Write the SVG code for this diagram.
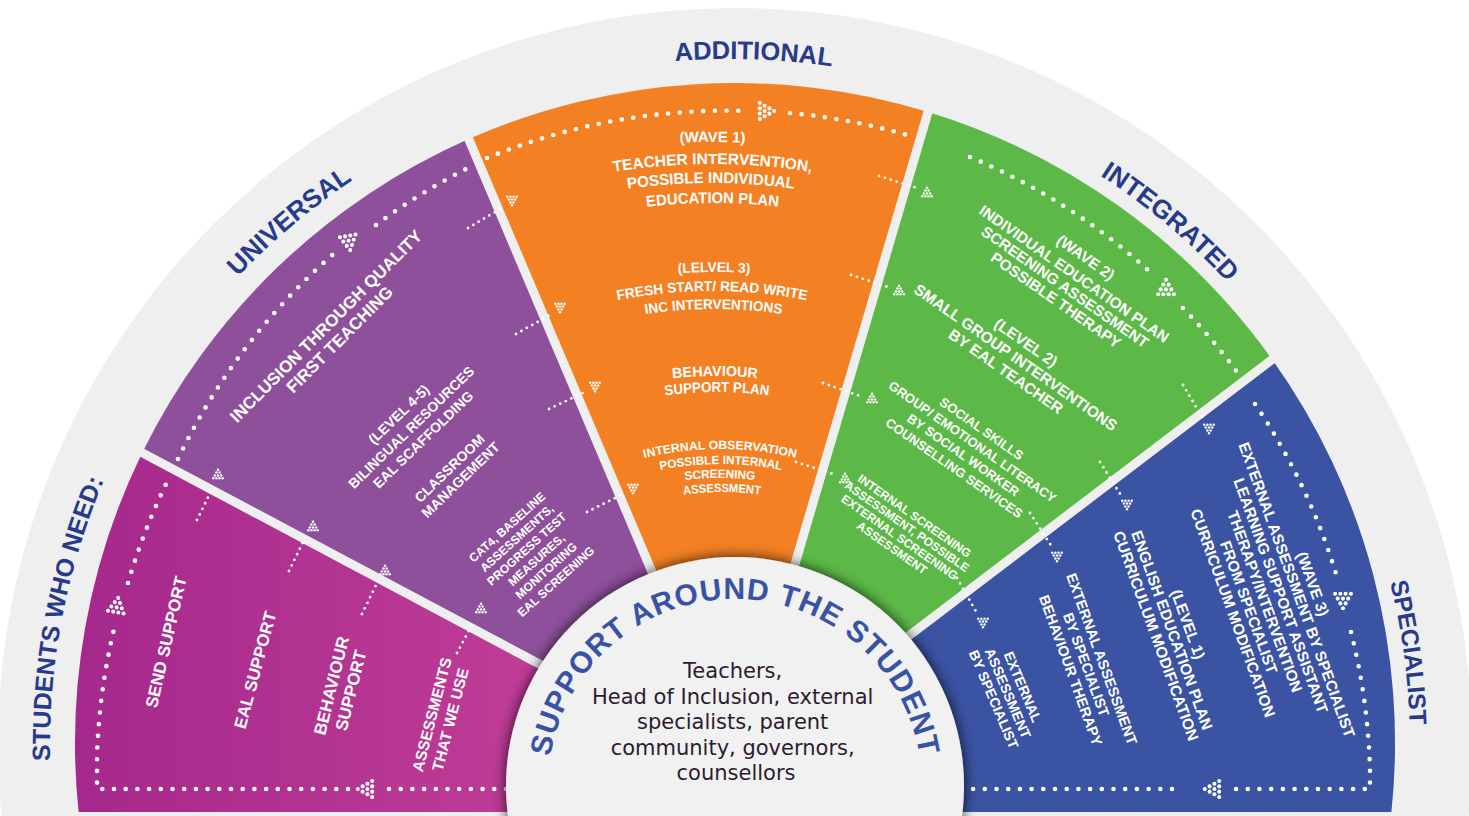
<svg xmlns="http://www.w3.org/2000/svg" width="1469" height="816" viewBox="0 0 1469 816">
<defs>
<style>
.lbl{font-family:"Liberation Sans",Arial,sans-serif;font-weight:700;fill:#263b8c}
.w{font-family:"Liberation Sans",Arial,sans-serif;font-weight:700;fill:#fff}
.body{font-family:"DejaVu Sans",sans-serif;fill:#2e1b30;font-size:21px}
.dl{fill:none;stroke:#fff;stroke-width:4.6;stroke-linecap:round;stroke-dasharray:0 11.7}
.ds{fill:none;stroke:#fff;stroke-width:2.8;stroke-linecap:round;stroke-dasharray:0 6.2}
.gap{stroke:#efefef;stroke-width:9}
</style>
<linearGradient id="mg" x1="78" y1="0" x2="735" y2="0" gradientUnits="userSpaceOnUse">
<stop offset="0" stop-color="#a5288c"/><stop offset="1" stop-color="#cb469b"/>
</linearGradient>
<filter id="sh" x="-20%" y="-20%" width="140%" height="140%">
<feGaussianBlur in="SourceAlpha" stdDeviation="7"/>
<feComponentTransfer><feFuncA type="linear" slope="0.8"/></feComponentTransfer>
<feMerge><feMergeNode/><feMergeNode in="SourceGraphic"/></feMerge>
</filter>
<g id="ah" fill="#fff">
<circle cx="-6" cy="-6.6" r="1.7"/><circle cx="-6" cy="-2.2" r="1.7"/><circle cx="-6" cy="2.2" r="1.7"/><circle cx="-6" cy="6.6" r="1.7"/>
<circle cx="-2" cy="-4.4" r="1.7"/><circle cx="-2" cy="0" r="1.7"/><circle cx="-2" cy="4.4" r="1.7"/>
<circle cx="2" cy="-2.2" r="1.7"/><circle cx="2" cy="2.2" r="1.7"/>
<circle cx="6" cy="0" r="1.7"/>
</g>
<path id="ringp" d="M 73.2 922 A 680 680 0 1 1 1386.8 922" fill="none"/>
<path id="ringa" d="M 135 402.5 A 687 687 0 0 1 1325 402.5" fill="none"/>
<path id="cp" d="M 548 786 A 187 187 0 0 1 922 786" fill="none"/>
<path id="o1" d="M 562.5 160 A 633 633 0 0 1 862.5 160" fill="none"/>
<path id="o2" d="M 562.5 182.7 A 611 611 0 0 1 862.5 182.7" fill="none"/>
<path id="o3" d="M 561 202.3 A 592 592 0 0 1 861 202.3" fill="none"/>
<path id="o4" d="M 562.5 223 A 572 572 0 0 1 862.5 223" fill="none"/>
<path id="o5" d="M 564 294.9 A 503 503 0 0 1 864 294.9" fill="none"/>
<path id="o6" d="M 562 314.8 A 484 484 0 0 1 862 314.8" fill="none"/>
<path id="o7" d="M 563.5 333.8 A 466 466 0 0 1 863.5 333.8" fill="none"/>
<path id="o8" d="M 595 394.5 A 399 399 0 0 1 835 394.5" fill="none"/>
<path id="o9" d="M 597 411.3 A 383 383 0 0 1 837 411.3" fill="none"/>
<path id="o10" d="M 600 471.9 A 326 326 0 0 1 840 471.9" fill="none"/>
<path id="o11" d="M 601 488.1 A 311 311 0 0 1 841 488.1" fill="none"/>
<path id="o12" d="M 620 495.3 A 297 297 0 0 1 820 495.3" fill="none"/>
<path id="o13" d="M 622 510.3 A 283 283 0 0 1 822 510.3" fill="none"/>
</defs>

<rect x="0" y="0" width="1469" height="816" fill="#ffffff"/>
<g id="ring">
<circle cx="735" cy="745" r="737" fill="#efefef"/>
<g class="lbl" text-anchor="middle">
<text font-size="25"><textPath href="#ringp" startOffset="307">STUDENTS WHO NEED:</textPath></text>
<text font-size="26"><textPath href="#ringp" startOffset="771">UNIVERSAL</textPath></text>
<text font-size="25.5"><textPath href="#ringa" startOffset="743">ADDITIONAL</textPath></text>
<text font-size="26"><textPath href="#ringp" startOffset="1721">INTEGRATED</textPath></text>
<text font-size="24.5"><textPath href="#ringp" startOffset="2221">SPECIALIST</textPath></text>
</g>
</g>

<g id="sector-students">
<path d="M 735 812 L 78.6 812 A 660 660 0 0 1 142.2 452.8 L 735 768 Z" fill="url(#mg)"/>
<g class="w" text-anchor="middle">
<text font-size="17" transform="translate(166,642) rotate(-77)"><tspan x="0" y="6">SEND SUPPORT</tspan></text>
<text font-size="17" transform="translate(255,670) rotate(-75)"><tspan x="0" y="6">EAL SUPPORT</tspan></text>
<text font-size="17" transform="translate(341,688) rotate(-76)"><tspan x="0" y="-4">BEHAVIOUR</tspan><tspan x="0" y="16">SUPPORT</tspan></text>
<text font-size="15.5" transform="translate(441,717) rotate(-75.5)"><tspan x="0" y="-4">ASSESSMENTS</tspan><tspan x="0" y="15">THAT WE USE</tspan></text>
</g>
</g>

<g id="sector-universal">
<path d="M 735 768 L 142.2 452.8 A 660 660 0 0 1 468.7 139.1 Z" fill="#8e4f9b"/>
<g class="w" text-anchor="middle">
<text font-size="17" transform="rotate(-45)"><tspan x="0" y="467">INCLUSION THROUGH QUALITY</tspan><tspan x="0" y="486">FIRST TEACHING</tspan></text>
<text font-size="14" transform="rotate(-44)"><tspan x="-1" y="580">(LEVEL 4-5)</tspan><tspan x="-1" y="598">BILINGUAL RESOURCES</tspan><tspan x="-1" y="615">EAL SCAFFOLDING</tspan></text>
<text font-size="14" transform="rotate(-44)"><tspan x="-2" y="654">CLASSROOM</tspan><tspan x="-2" y="670">MANAGEMENT</tspan></text>
<text font-size="12" transform="rotate(-42)"><tspan x="24" y="735.3">CAT4, BASELINE</tspan><tspan x="24" y="749.9">ASSESSMENTS,</tspan><tspan x="24" y="764.5">PROGRESS TEST</tspan><tspan x="24" y="779.1">MEASURES,</tspan><tspan x="24" y="793.7">MONITORING</tspan><tspan x="24" y="808.3">EAL SCREENING</tspan></text>
</g>
</g>

<g id="sector-additional">
<path d="M 735 768 L 468.7 139.1 A 660 660 0 0 1 928.1 111.9 Z" fill="#f38123"/>
<g class="w" text-anchor="middle">
<text font-size="15"><textPath href="#o1" startOffset="50%">(WAVE 1)</textPath></text>
<text font-size="15.5"><textPath href="#o2" startOffset="50%" textLength="199" lengthAdjust="spacingAndGlyphs">TEACHER INTERVENTION,</textPath></text>
<text font-size="15.5"><textPath href="#o3" startOffset="50%" textLength="167" lengthAdjust="spacingAndGlyphs">POSSIBLE INDIVIDUAL</textPath></text>
<text font-size="15.5"><textPath href="#o4" startOffset="50%" textLength="132" lengthAdjust="spacingAndGlyphs">EDUCATION PLAN</textPath></text>
<text font-size="14"><textPath href="#o5" startOffset="50%" textLength="72" lengthAdjust="spacingAndGlyphs">(LELVEL 3)</textPath></text>
<text font-size="14"><textPath href="#o6" startOffset="50%" textLength="190" lengthAdjust="spacingAndGlyphs">FRESH START/ READ WRITE</textPath></text>
<text font-size="14"><textPath href="#o7" startOffset="50%" textLength="137" lengthAdjust="spacingAndGlyphs">INC INTERVENTIONS</textPath></text>
<text font-size="14.5"><textPath href="#o8" startOffset="50%" textLength="85" lengthAdjust="spacingAndGlyphs">BEHAVIOUR</textPath></text>
<text font-size="14.5"><textPath href="#o9" startOffset="50%" textLength="104" lengthAdjust="spacingAndGlyphs">SUPPORT PLAN</textPath></text>
<text font-size="12"><textPath href="#o10" startOffset="50%" textLength="153" lengthAdjust="spacingAndGlyphs">INTERNAL OBSERVATION</textPath></text>
<text font-size="12"><textPath href="#o11" startOffset="50%" textLength="122" lengthAdjust="spacingAndGlyphs">POSSIBLE INTERNAL</textPath></text>
<text font-size="12"><textPath href="#o12" startOffset="50%" textLength="70" lengthAdjust="spacingAndGlyphs">SCREENING</textPath></text>
<text font-size="12"><textPath href="#o13" startOffset="50%" textLength="77" lengthAdjust="spacingAndGlyphs">ASSESSMENT</textPath></text>
</g>
</g>

<g id="sector-integrated">
<path d="M 735 768 L 928.1 111.9 A 660 660 0 0 1 1272.2 359.5 Z" fill="#5cb947"/>
<g class="w" text-anchor="middle">
<text font-size="15.3" transform="rotate(35)"><tspan x="1037" y="-406.5">(WAVE 2)</tspan><tspan x="1037" y="-386.5">INDIVIDUAL EDUCATION PLAN</tspan><tspan x="1037" y="-370.5">SCREENING ASSESSMENT</tspan><tspan x="1037" y="-354.5">POSSIBLE THERAPY</tspan></text>
<text font-size="15.5" transform="rotate(35)"><tspan x="1037" y="-302.4">(LEVEL 2)</tspan><tspan x="1037" y="-284.4">SMALL GROUP INTERVENTIONS</tspan><tspan x="1037" y="-267.4">BY EAL TEACHER</tspan></text>
<text font-size="13" transform="rotate(35)"><tspan x="1050" y="-207.3">SOCIAL SKILLS</tspan><tspan x="1050" y="-191.3">GROUP/ EMOTIONAL LITERACY</tspan><tspan x="1050" y="-175.3">BY SOCIAL WORKER</tspan><tspan x="1050" y="-159.3">COUNSELLING SERVICES</tspan></text>
<text font-size="12" transform="rotate(35)"><tspan x="1045" y="-97.7">INTERNAL SCREENING</tspan><tspan x="1045" y="-84.7">ASSESSMENT, POSSIBLE</tspan><tspan x="1045" y="-71.7">EXTERNAL SCREENING</tspan><tspan x="1045" y="-58.7">ASSESSMENT</tspan></text>
</g>
</g>

<g id="sector-specialist">
<path d="M 735 768 L 1272.2 359.5 A 660 660 0 0 1 1391.4 812 L 735 812 Z" fill="#3a53a3"/>
<g class="w" text-anchor="middle">
<text font-size="15.4" transform="rotate(70)"><tspan x="997.7" y="-1028.5">(WAVE 3)</tspan><tspan x="997.7" y="-1011.5">EXTERNAL ASSESSMENT BY SPECIALIST</tspan><tspan x="997.7" y="-994.5">LEARNING SUPPORT ASSISTANT</tspan><tspan x="997.7" y="-977.5">THERAPY/INTERVENTION</tspan><tspan x="997.7" y="-960.5">FROM SPECIALIST</tspan><tspan x="997.7" y="-943.5">CURRICULUM MODIFICATION</tspan></text>
<text font-size="15.5" transform="rotate(70)"><tspan x="993" y="-897.4">(LEVEL 1)</tspan><tspan x="993" y="-880.4">ENGLISH EDUCATION PLAN</tspan><tspan x="993" y="-863.4">CURRICULUM MODIFICATION</tspan></text>
<text font-size="14.5" transform="rotate(70)"><tspan x="996" y="-804.8">EXTERNAL ASSESSMENT</tspan><tspan x="996" y="-788.3">BY SPECIALIST</tspan><tspan x="996" y="-771.8">BEHAVIOUR THERAPY</tspan></text>
<text font-size="14" transform="rotate(67)"><tspan x="1032" y="-668">EXTERNAL</tspan><tspan x="1032" y="-652">ASSESSMENT</tspan><tspan x="1032" y="-636.5">BY SPECIALIST</tspan></text>
</g>
</g>

<g id="gaps">
<line class="gap" x1="735" y1="768" x2="117" y2="439.4"/>
<line class="gap" x1="735" y1="768" x2="462.1" y2="123.4"/>
<line class="gap" x1="735" y1="768" x2="932.6" y2="96.5"/>
<line class="gap" x1="735" y1="768" x2="1292.2" y2="344.3"/>
</g>

<g id="connectors">
<path class="dl" d="M 506 789 H 382 M 348 789 H 97 V 755 A 640 640 0 0 1 116 621 M 128 583 A 640 640 0 0 1 167 482"/>
<path class="dl" d="M 178 459 A 632 632 0 0 1 337 251 M 376 225 A 632 632 0 0 1 468 168"/>
<path class="dl" d="M 487 158 A 632 632 0 0 1 746 111 M 790 113 A 632 632 0 0 1 907 135"/>
<path class="dl" d="M 970 157 A 632 632 0 0 1 1149 271 M 1183 308 A 632 632 0 0 1 1237 372"/>
<path class="dl" d="M 1255 404 A 632 632 0 0 1 1337 577 M 1351 632 A 632 632 0 0 1 1370 770 V 789 H 1228 M 1172 789 H 968"/>
<use href="#ah" transform="translate(117,605) rotate(-80) scale(1.2)"/>
<use href="#ah" transform="translate(349,243) rotate(80) scale(1.2)"/>
<use href="#ah" transform="translate(767,111) scale(1.2)"/>
<use href="#ah" transform="translate(1166,287) rotate(-90) scale(1.2)"/>
<use href="#ah" transform="translate(1343,601) rotate(90) scale(1.2)"/>
<use href="#ah" transform="translate(1212,789) rotate(180) scale(1.2)"/>
<use href="#ah" transform="translate(365,789) rotate(180) scale(1.2)"/>

<path class="ds" d="M 197 520 L 213 487 M 289 571 L 305 538 M 362 614 L 377 583 M 457 653 L 473 623"/>
<use href="#ah" transform="translate(218,474) rotate(-90) scale(0.72)"/>
<use href="#ah" transform="translate(313,526) rotate(-90) scale(0.72)"/>
<use href="#ah" transform="translate(385,570) rotate(-90) scale(0.72)"/>
<use href="#ah" transform="translate(481,608) rotate(-90) scale(0.72)"/>

<path class="ds" d="M 468 228 L 502 208 M 516 334 L 550 315 M 549 409 L 585 392 M 587 512 L 623 494"/>
<use href="#ah" transform="translate(512,201) rotate(90) scale(0.72)"/>
<use href="#ah" transform="translate(560,308) rotate(90) scale(0.72)"/>
<use href="#ah" transform="translate(595,387) rotate(90) scale(0.72)"/>
<use href="#ah" transform="translate(633,489) rotate(90) scale(0.72)"/>

<path class="ds" d="M 879 176 L 917 188 M 851 275 L 888 287 M 823 383 L 860 396 M 796 462 L 833 474"/>
<use href="#ah" transform="translate(927,192) rotate(-90) scale(0.72)"/>
<use href="#ah" transform="translate(899,290) rotate(-90) scale(0.72)"/>
<use href="#ah" transform="translate(872,398) rotate(-90) scale(0.72)"/>
<use href="#ah" transform="translate(845,478) rotate(-90) scale(0.72)"/>

<path class="ds" d="M 1183 385 L 1205 422 M 1100 462 L 1122 497 M 1030 513 L 1052 547 M 957 578 L 978 615"/>
<use href="#ah" transform="translate(1209,429) rotate(90) scale(0.72)"/>
<use href="#ah" transform="translate(1127,505) rotate(90) scale(0.72)"/>
<use href="#ah" transform="translate(1057,557) rotate(90) scale(0.72)"/>
<use href="#ah" transform="translate(983,623) rotate(90) scale(0.72)"/>
</g>

<g id="center-node">
<circle cx="735" cy="786" r="229" fill="#f1f1f1" filter="url(#sh)"/>
<text font-family="Liberation Sans, Arial, sans-serif" font-weight="700" font-size="30" letter-spacing="1" fill="#3953a4" text-anchor="middle"><textPath href="#cp" startOffset="50%">SUPPORT AROUND THE STUDENT</textPath></text>
<text class="body" text-anchor="middle">
<tspan x="736" y="678">Teachers,</tspan>
<tspan x="736" y="704">Head of Inclusion, external</tspan>
<tspan x="736" y="729">specialists, parent</tspan>
<tspan x="736" y="755">community, governors,</tspan>
<tspan x="736" y="780">counsellors</tspan>
</text>
</g>
</svg>
